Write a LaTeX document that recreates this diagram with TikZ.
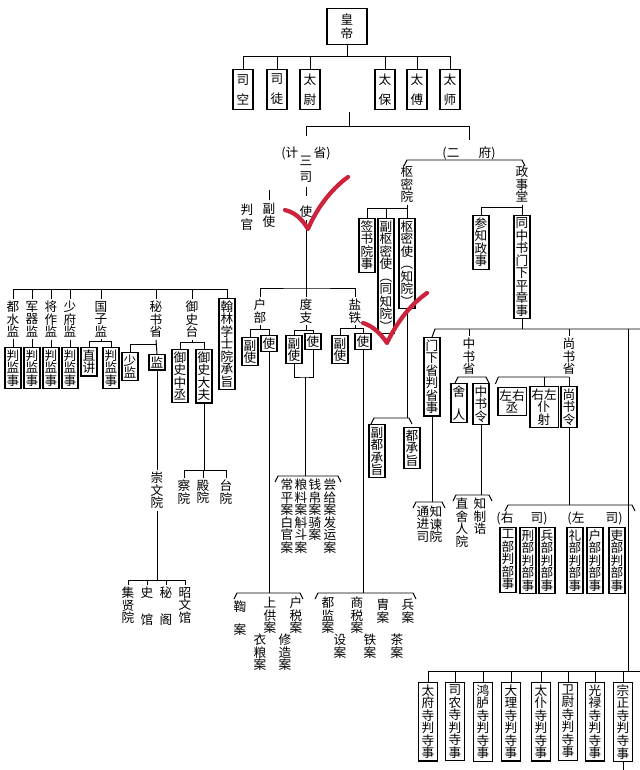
\documentclass[tikz,border=0pt]{standalone}
\usepackage{fontspec}
\setmainfont{Noto Sans CJK SC}
\usetikzlibrary{calc}
\definecolor{gouhong}{RGB}{205,35,60}
\newcommand{\zhfs}{\fontsize{9}{8.9}\selectfont}
% bracket with slanted ends
\newcommand{\kuo}[3]{\draw (#1-3,#3+6) -- (#1,#3) -- (#2,#3) -- (#2+3,#3+6);}
\tikzset{
    guan/.style={draw, line width=0.8pt, font=\zhfs, align=center, inner xsep=1pt, inner ysep=1.5pt, minimum width=4mm, anchor=north},
    ming/.style={font=\zhfs, align=center, inner sep=0pt, outer sep=1.5pt, anchor=north},
    gou/.style={draw=gouhong, line width=3pt, line cap=round, line join=round}
}
\begin{document}
\begin{tikzpicture}[x=0.25mm, y=-0.25mm, line width=0.7pt]
    \fill[white] (0,0) rectangle (640,770);
    \useasboundingbox (0,0) rectangle (640,770);

    % emperor and the six
    \node[guan, anchor=center, minimum width=10mm, minimum height=9.2mm, inner ysep=0pt] (hd) at (347,26.5) {皇\\[0.4mm]帝};
    \foreach \x/\n/\a/\b in {243/sikong/司/空, 277/situ/司/徒, 310/taiwei/太/尉, 385/taibao/太/保, 417/taifu/太/傅, 450/taishi/太/师} {
        \node[guan, anchor=center, minimum width=5mm, minimum height=10.2mm] (\n) at (\x,89.5) {\a\\[1.9mm]\b};
        \draw (hd.south) -- (hd.south |- 0,56) -| (\n.north);
    }

    \node[ming] (jsh) at (306,145) {(计\hspace{3.8mm}省)};
    \node[ming] (erf) at (469,145) {(二\hspace{4.8mm}府)};
    \coordinate (ctop) at (349,112);
    \coordinate (cmid) at (349,126);
    \draw (ctop) -- (cmid) -| ([yshift=2.2mm]jsh.north);
    \draw (cmid) -| ([yshift=1.3mm]erf.north);

    % san si
    \node[ming] (san) at (306,154) {三\\[0.9mm]司};
    \node[ming] (shi) at (306,204) {使};
    \node[ming] (fushi) at (269,201) {副\\使};
    \node[ming] (pgu) at (247,202) {判\\[0.6mm]官};
    \draw[shorten <=0.6mm, shorten >=2mm] (san) -- (shi);
    \draw ($(fushi.north)+(0,-1)$) -- ++(0,-10);
    \coordinate (sbar) at (306,288);
    \draw (shi.south) -- (sbar);

    \node[ming] (hb) at (260,297) {户\\部};
    \node[ming] (dz) at (306,297) {度\\支};
    \node[ming] (yt) at (355,297) {盐\\铁};
    \draw (hb.north) |- (sbar) -| (yt.north);
    \draw (dz.north) -- (sbar);

    \node[guan] (hbf) at (250,337) {副\\使};
    \node[guan] (hbs) at (269,335) {使};
    \draw (hb.south) -- (hb.south |- 0,329);
    \draw (hbf.north) |- (hbs.north |- 0,329) -- (hbs.north);

    \node[guan] (dzf) at (294,335) {副\\使};
    \node[guan] (dzs) at (313,333) {使};
    \draw (dz.south) -- (dz.south |- 0,330);
    \draw (dzf.north) |- (dzs.north |- 0,330) -- (dzs.north);
    \coordinate (dzu) at (305,377);
    \draw (dzf.south) |- (dzu) -| (dzs.south);
    \draw (dzu) -- (dzu |- 0,476);

    \node[guan] (ytf) at (340,335) {副\\使};
    \node[guan] (yts) at (363,333) {使};
    \draw (yt.south) -- (yt.south |- 0,328);
    \draw (ytf.north) |- (yts.north |- 0,328) -- (yts.north);

    \draw (hbs.south) -- (hbs.south |- 0,593);
    \draw (yts.south) -- (yts.south |- 0,593);
    \kuo{237}{300}{593}
    \kuo{318}{413}{593}
    \kuo{278}{338}{476}

    % an
    \node[ming] (ja) at (240,599) {鞫\\[2.6mm]案};
    \node[ming] (sga) at (270,595) {上\\供\\案};
    \node[ming] (hsa) at (296,595) {户\\税\\案};
    \node[ming] (yla) at (260,632) {衣\\粮\\案};
    \node[ming] (xza) at (285,632) {修\\造\\案};
    \node[ming] (djan) at (328,595) {都\\监\\案};
    \node[ming] (ssa) at (357,595) {商\\税\\案};
    \node[ming] (zha) at (383,597) {胄\\案};
    \node[ming] (bga) at (408,597) {兵\\案};
    \node[ming] (sha) at (340,632) {设\\案};
    \node[ming] (tia) at (370,632) {铁\\案};
    \node[ming] (cha) at (397,632) {茶\\案};
    \node[ming] (cpa) at (287,477) {常\\平\\案\\白\\官\\案};
    \node[ming] (lla) at (301,477) {粮\\料\\案\\斛\\斗\\案};
    \node[ming] (qba) at (315,477) {钱\\帛\\案\\骑\\案};
    \node[ming] (sja) at (330,477) {尝\\给\\案\\发\\运\\案};

    % left group
    \foreach \x/\n/\a/\b in {13/dsj/都/水, 32/jqj/军/器, 51/jzj/将/作, 70/sfj/少/府} {
        \node[ming] (\n) at (\x,299) {\a\\\b\\监};
        \node[guan] (p\n) at (\x,347) {判\\监\\事};
        \draw (\n.north) -- (\n.north |- 0,289);
        \draw (\n.south) -- (p\n.north);
    }
    \node[ming] (gzj) at (101,299) {国\\子\\监};
    \node[guan] (zhij) at (89,347) {直\\讲};
    \node[guan] (pgz) at (111,347) {判\\监\\事};
    \draw (gzj.south) -- (gzj.south |- 0,341);
    \draw (zhij.north) |- (pgz.north |- 0,341) -- (pgz.north);

    \node[ming] (msx) at (156,299) {秘\\书\\省};
    \node[guan] (shj) at (130,352) {少\\监};
    \node[guan] (jian) at (157,354) {监};
    \draw (shj.north) |- (jian.north |- 0,344);
    \draw (msx.south) -- (jian.north);
    \node[ming] (cwy) at (157,470) {崇\\文\\院};
    \draw (jian.south) -- (cwy.north);
    \draw (cwy.south) -- (cwy.south |- 0,580);
    \foreach \x/\n/\s in {128/jxy/{集\\贤\\院}, 147/shg/{史\\[3.6mm]馆}, 166/mig/{秘\\[3.6mm]阁}, 185/zwg/{昭\\文\\馆}} {
        \node[ming] (\n) at (\x,585) {\s};
        \draw (\n.north) |- (cwy.south |- 0,580);
    }

    \node[ming] (yst) at (192,299) {御\\史\\台};
    \node[guan] (yszc) at (180,349) {御\\史\\中\\丞};
    \node[guan] (ysdf) at (204,349) {御\\史\\大\\夫};
    \draw (yst.south) -- (yst.south |- 0,342);
    \draw (yszc.north) |- (ysdf.north |- 0,342) -- (ysdf.north);
    \draw (ysdf.south) -- (ysdf.south |- 0,470);
    \foreach \x/\n/\a in {184/chay/察, 203/diany/殿, 226/taiy/台} {
        \node[ming] (\n) at (\x,478) {\a\\院};
        \draw (\n.north) |- (ysdf.south |- 0,470);
    }

    \node[guan] (hl) at (227,298) {翰\\林\\学\\士\\院\\承\\旨};
    \draw (hl.north) -- (hl.north |- 0,289);
    \foreach \n in {gzj,msx,yst} \draw (\n.north) -- (\n.north |- 0,289);
    \draw (dsj.north |- 0,289) -- (hl.north |- 0,289);

    % er fu
    \node[ming] (smy) at (407,164) {枢\\密\\院};
    \node[ming] (zst) at (522,164) {政\\事\\堂};
    \draw ($(smy.north)+(-3,2)$) -- ($(smy.north)+(0,-4)$) -- ($(zst.north)+(0,-4)$) -- ($(zst.north)+(3,2)$);

    \node[guan] (qsy) at (367,218) {签\\书\\院\\事};
    \node[guan] (fsm) at (386,218) {副\\枢\\密\\使\\︵\\同\\知\\院\\︶};
    \node[guan] (smsh) at (407,218) {枢\\密\\使\\︵\\知\\院\\︶};
    \draw (qsy.north) |- (smy.south |- 0,208);
    \draw (fsm.north) -- (fsm.north |- 0,208);
    \draw (smy.south) -- (smsh.north);

    \draw (smsh.south) -- (smsh.south |- 0,418);
    \kuo{374}{409}{418}
    \node[guan] (fdc) at (377,424) {副\\都\\承\\旨};
    \node[guan] (dcz) at (412,427) {都\\承\\旨};

    \node[guan] (czs) at (481,215) {参\\知\\政\\事};
    \node[guan] (tzs) at (522,215) {同\\中\\书\\门\\下\\平\\章\\事};
    \draw (czs.north) |- (zst.south |- 0,207);
    \draw (zst.south) -- (tzs.north);

    \coordinate (zb) at (522,329);
    \draw (tzs.south) -- (zb);
    \node[guan] (mxs) at (432,337) {门\\下\\省\\判\\省\\事};
    \draw (mxs.north) -- ++(3,-8) -- (640,329);
    \node[ming] (zsh) at (469,336) {中\\书\\省};
    \node[ming] (ssh) at (569,336) {尚\\书\\省};
    \draw (zsh.north) -- (zsh.north |- zb);
    \draw (ssh.north) -- (ssh.north |- zb);

    % zhong shu
    \kuo{458}{486}{377}
    \node[guan] (shr) at (459,383) {舍\\[2.6mm]人};
    \node[guan] (zsl) at (481,383) {中\\书\\令};
    \draw (zsl.south) -- (zsl.south |- 0,495);
    \kuo{456}{489}{495}
    \node[ming] (zhsr) at (462,496) {直\\舍\\人\\院};
    \node[ming] (zzg) at (480,496) {知\\制\\诰};

    \draw (mxs.south) -- (mxs.south |- 0,502);
    \kuo{416}{442}{502}
    \node[ming] (tjs) at (423,504) {通\\进\\司};
    \node[ming] (zjy) at (436,504) {知\\谏\\院};

    % shang shu
    \node[guan] (zyc) at (512,387) {左右\\丞};
    \node[guan] (ypy) at (544,386) {右左\\仆\\射};
    \node[guan] (ssl) at (569,386) {尚\\书\\令};
    \draw (ssh.south) -- (ssl.north);
    \draw (ypy.north) -- (ypy.north |- 0,377);
    \draw ($(zyc.north west)+(-2,-3)$) -- ++(3,-7) -- (ssl.north |- 0,377);
    \draw (ssl.south) -- (ssl.south |- 0,505);
    \kuo{508}{632}{505}
    \node[ming] (yousi) at (522,510) {(右\hspace{4.3mm}司)};
    \node[ming] (zuosi) at (595,510) {(左\hspace{5.3mm}司)};
    \foreach \x/\n/\a in {508/gongb/工, 528/xingb/刑, 547/bingb/兵, 575/lib/礼, 595/hub/户, 617/lib2/吏}
        \node[guan] (\n) at (\x,527) {\a\\部\\判\\部\\事};

    % nine si
    \coordinate (sj9) at (628,671);
    \draw (zb -| sj9) -- (sj9);
    \foreach \x/\n/\a/\b in {428/tfs/太/府, 455/sns/司/农, 483/hls/鸿/胪, 511/dls/大/理, 541/tps/太/仆, 568/wws/卫/尉, 595/gls/光/禄, 623/zzs/宗/正} {
        \node[guan, minimum width=4.8mm] (\n) at (\x,682) {\a\\\b\\寺\\判\\寺\\事};
        \draw (\n.north) -- (\n.north |- sj9);
    }
    \draw (tfs.north |- sj9) -- (640,671);
    \draw (zzs.south) -- ++(0,14);

    % red ticks
    \draw[gou] (285,210) .. controls (297,213) and (303,221) .. (308,229) .. controls (316,210) and (330,190) .. (348,177);
    \draw[gou] (363,323) .. controls (373,326) and (381,334) .. (387,343) .. controls (397,322) and (410,305) .. (427,293);
\end{tikzpicture}
\end{document}
